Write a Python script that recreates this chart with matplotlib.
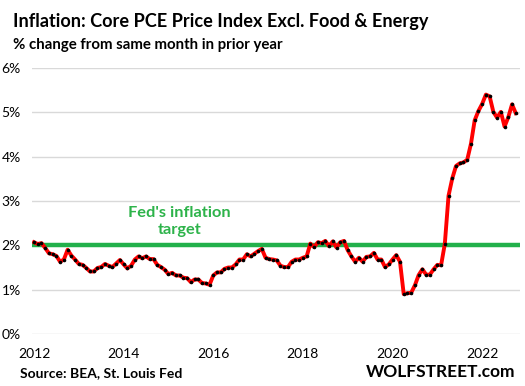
import matplotlib
matplotlib.use("Agg")
import matplotlib.pyplot as plt
import numpy as np

plt.rcParams['font.family'] = ['Lato', 'DejaVu Sans']

# core PCE yoy % change, monthly from Jan 2012
start_year = 2012
core_pce = [
    2.07, 2.03, 2.05, 1.94, 1.82, 1.80, 1.76, 1.63, 1.68, 1.90, 1.77, 1.68,  # 2012
    1.58, 1.56, 1.49, 1.41, 1.41, 1.49, 1.51, 1.58, 1.54, 1.51, 1.59, 1.67,  # 2013
    1.57, 1.48, 1.54, 1.68, 1.75, 1.71, 1.75, 1.69, 1.69, 1.56, 1.51, 1.45,  # 2014
    1.35, 1.38, 1.32, 1.32, 1.27, 1.26, 1.17, 1.23, 1.23, 1.15, 1.14, 1.11,  # 2015
    1.32, 1.39, 1.39, 1.47, 1.50, 1.50, 1.57, 1.68, 1.68, 1.80, 1.75, 1.81,  # 2016
    1.87, 1.92, 1.72, 1.69, 1.68, 1.66, 1.54, 1.51, 1.51, 1.63, 1.68, 1.68,  # 2017
    1.72, 1.75, 2.04, 1.96, 2.07, 2.05, 2.10, 1.98, 2.09, 1.95, 2.07, 2.10,  # 2018
    1.89, 1.75, 1.63, 1.72, 1.63, 1.74, 1.75, 1.83, 1.68, 1.68, 1.51, 1.57,  # 2019
    1.68, 1.78, 1.63, 0.90, 0.92, 0.93, 1.10, 1.33, 1.46, 1.34, 1.34, 1.46,  # 2020
    1.56, 1.55, 2.03, 3.12, 3.51, 3.79, 3.85, 3.87, 3.93, 4.29, 4.82, 5.03,  # 2021
    5.19, 5.40, 5.36, 5.01, 4.88, 5.01, 4.68, 4.89, 5.18, 4.98,              # 2022
]
fed_target = 2.0
y_ticks = [0, 1, 2, 3, 4, 5, 6]
x_ticks = [2012, 2014, 2016, 2018, 2020, 2022]

x = start_year + np.arange(len(core_pce)) / 12.0

W, H = 525, 386
fig = plt.figure(figsize=(W / 100, H / 100), dpi=100)
ax = fig.add_axes([32 / W, 1 - 334 / H, (520 - 32) / W, (334 - 68) / H])

for yt in y_ticks:
    ax.axhline(yt, color='#d9d9d9', lw=1, zorder=1)

ax.axhline(fed_target, color='#22b04b', lw=3.2, zorder=2)
ax.plot(x, core_pce, color='#ff0000', lw=2.8, zorder=3,
        marker='o', markersize=2.6, markerfacecolor='black',
        markeredgecolor='black', markeredgewidth=0)

ax.set_xlim(2012 - 2 / 45, 2012 + 488 / 45)
ax.set_ylim(0, 6)
ax.set_yticks(y_ticks)
ax.set_yticklabels([f"{v}%" for v in y_ticks])
ax.set_xticks(x_ticks)
ax.set_xticklabels([str(v) for v in x_ticks])
ax.tick_params(length=0, labelsize=10, colors='black')
ax.tick_params(axis='y', pad=8)
ax.tick_params(axis='x', pad=10)
for s in ax.spines.values():
    s.set_visible(False)

# annotation for the fed's 2% line
ax.text(2012 + (180 - 34) / 45, (334 - 221.5) / 44.3, "Fed's inflation\ntarget",
        color='#2db34a', fontsize=11.8, fontweight='bold', ha='center', va='center',
        linespacing=1.2)

fig.text(13 / W, 1 - 22 / H, "Inflation: Core PCE Price Index Excl. Food & Energy",
         fontsize=13.1, fontweight='bold', va='center', ha='left')
fig.text(13 / W, 1 - 45 / H, "% change from same month in prior year",
         fontsize=10.8, fontweight='bold', va='center', ha='left')
fig.text(20 / W, 1 - 373 / H, "Source: BEA, St. Louis Fed",
         fontsize=10, fontweight='bold', va='center', ha='left')
fig.text(515 / W, 1 - 372 / H, "WOLFSTREET.com",
         fontsize=12.5, fontweight='bold', va='center', ha='right')

fig.savefig("out.png", dpi=100)
